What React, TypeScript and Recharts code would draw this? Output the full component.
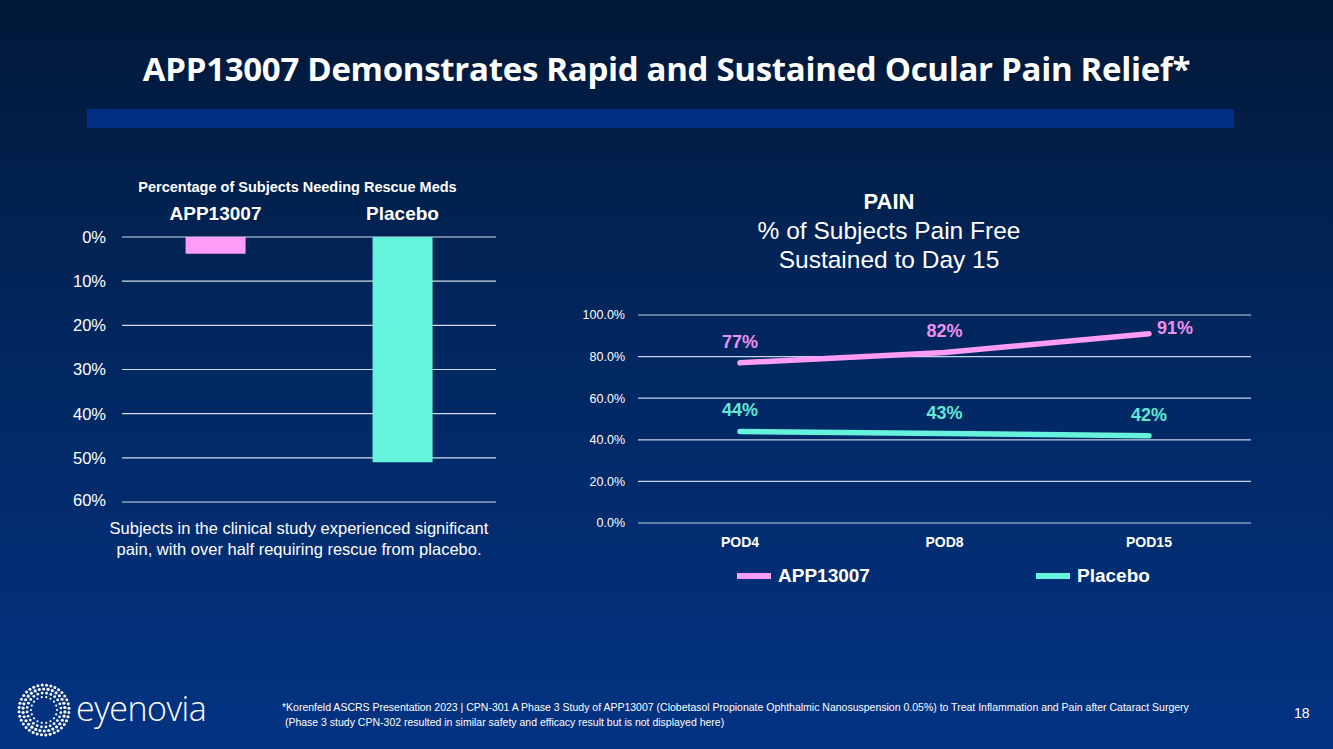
import React from 'react';
import { BarChart, Bar, LineChart, Line, XAxis, YAxis, CartesianGrid, LabelList, Cell } from 'recharts';

// left panel: rescue meds
const rescueGroups = ['APP13007', 'Placebo'];
const rescueValues = [3.8, 51];
const rescueTicks = [0, 10, 20, 30, 40, 50, 60];

// right panel: pain free
const podDays = ['POD4', 'POD8', 'POD15'];
const appValues = [77, 82, 91];
const placeboValues = [44, 43, 42];
const painTicks = [0, 20, 40, 60, 80, 100];

const PINK = '#ff9cf6';
const TEAL = '#66f3dd';
const PINK_TXT = '#ee90ee';
const TEAL_TXT = '#62e6d6';
const FONT = "'Liberation Sans', Arial, sans-serif";

const rescueData = rescueGroups.map((g, i) => ({ group: g, value: rescueValues[i] }));
const painData = podDays.map((d, i) => ({ day: d, app: appValues[i], placebo: placeboValues[i] }));

const legendItems = [
    { name: 'APP13007', color: PINK, left: 737 },
    { name: 'Placebo', color: TEAL, left: 1036 },
];

const TopTick = (props: any) => {
    const { x, y, payload } = props;
    return (
        <text x={x} y={y} dy={-9} textAnchor="middle" fill="#fff" fontSize={19} fontWeight="bold" fontFamily={FONT}>
            {payload.value}
        </text>
    );
};

const makeLabel = (color: string, lastRight: boolean) => (props: any) => {
    const { x, y, value, index } = props;
    const side = lastRight && index === podDays.length - 1;
    return (
        <text
            x={side ? x + 26 : x}
            y={side ? y - 6 : y - 21}
            dy={6}
            textAnchor="middle"
            fill={color}
            fontSize={18}
            fontWeight="bold"
            fontFamily={FONT}
        >
            {`${value}%`}
        </text>
    );
};

const Logo = () => {
    const dots: React.ReactElement[] = [];
    const rings = [
        { r: 13, n: 18, s: 1.1 },
        { r: 17, n: 24, s: 1.4 },
        { r: 21, n: 30, s: 1.6 },
        { r: 25, n: 36, s: 1.5 },
    ];
    rings.forEach((ring, ri) => {
        for (let k = 0; k < ring.n; k++) {
            const a = (k / ring.n) * Math.PI * 2 + ri * 0.15;
            dots.push(
                <circle key={`${ri}-${k}`} cx={29 + ring.r * Math.cos(a)} cy={29 + ring.r * Math.sin(a)} r={ring.s} fill="#fff" />
            );
        }
    });
    return (
        <div style={{ position: 'absolute', left: 15, top: 681, display: 'flex', alignItems: 'center' }}>
            <svg width={58} height={58}>{dots}</svg>
            <span style={{ color: '#fff', fontFamily: "'Open Sans', sans-serif", fontWeight: 300, fontSize: 34, marginLeft: 3, marginTop: -5, letterSpacing: -0.5 }}>
                eyenovia
            </span>
        </div>
    );
};

export default function App() {
    return (
        <div
            style={{
                position: 'absolute',
                left: 0,
                top: 0,
                width: 1333,
                height: 749,
                overflow: 'hidden',
                background: 'linear-gradient(180deg, #011838 0%, #02275f 45%, #033383 100%)',
                fontFamily: FONT,
            }}
        >
            <div style={{ position: 'absolute', left: 0, width: 1333, top: 46, textAlign: 'center', color: '#fff', fontFamily: "'Open Sans', sans-serif", fontWeight: 'bold', fontSize: 33, letterSpacing: -0.3 }}>
                APP13007 Demonstrates Rapid and Sustained Ocular Pain Relief*
            </div>
            <div style={{ position: 'absolute', left: 87, top: 109, width: 1147, height: 19, background: '#022f86' }} />

            {/* left chart */}
            <div style={{ position: 'absolute', left: 0, width: 595, top: 179, textAlign: 'center', color: '#fff', fontWeight: 'bold', fontSize: 14.5 }}>
                Percentage of Subjects Needing Rescue Meds
            </div>
            <div style={{ position: 'absolute', left: 0, top: 190 }}>
                <BarChart width={520} height={320} data={rescueData} margin={{ top: 17, right: 24, left: 2, bottom: 8 }} barCategoryGap="34%">
                    <CartesianGrid vertical={false} stroke="#d4dcec" strokeWidth={1.2} />
                    <XAxis dataKey="group" orientation="top" axisLine={false} tickLine={false} height={30} tick={<TopTick />} />
                    <YAxis
                        reversed
                        domain={[0, 60]}
                        ticks={rescueTicks}
                        width={120}
                        axisLine={false}
                        tickLine={false}
                        tickMargin={10}
                        tick={{ fill: '#fff', fontSize: 16.5, fontFamily: FONT }}
                        tickFormatter={(v) => `${v}%`}
                    />
                    <Bar dataKey="value" isAnimationActive={false}>
                        {rescueData.map((d, i) => (
                            <Cell key={d.group} fill={i === 0 ? PINK : TEAL} />
                        ))}
                    </Bar>
                </BarChart>
            </div>
            <div style={{ position: 'absolute', left: 0, width: 598, top: 518, textAlign: 'center', color: '#fff', fontSize: 16.5, lineHeight: '21px' }}>
                Subjects in the clinical study experienced significant
                <br />
                pain, with over half requiring rescue from placebo.
            </div>

            {/* right chart */}
            <div style={{ position: 'absolute', left: 560, width: 658, top: 187, textAlign: 'center', color: '#fff' }}>
                <div style={{ fontWeight: 'bold', fontSize: 22, lineHeight: '29px' }}>PAIN</div>
                <div style={{ fontSize: 24.5, lineHeight: '29px' }}>% of Subjects Pain Free</div>
                <div style={{ fontSize: 24.5, lineHeight: '29px' }}>Sustained to Day 15</div>
            </div>
            <div style={{ position: 'absolute', left: 560, top: 290 }}>
                <LineChart width={720} height={280} data={painData} margin={{ top: 25, right: 29, left: 18, bottom: 17 }}>
                    <CartesianGrid vertical={false} stroke="#c8d2e8" strokeWidth={1.2} />
                    <XAxis
                        dataKey="day"
                        padding={{ left: 102, right: 102 }}
                        axisLine={false}
                        tickLine={false}
                        tickMargin={8}
                        height={30}
                        tick={{ fill: '#fff', fontSize: 14, fontWeight: 'bold', fontFamily: FONT }}
                    />
                    <YAxis
                        domain={[0, 100]}
                        ticks={painTicks}
                        width={60}
                        axisLine={false}
                        tickLine={false}
                        tickMargin={7}
                        tick={{ fill: '#fff', fontSize: 12.5, fontFamily: FONT }}
                        tickFormatter={(v) => `${Number(v).toFixed(1)}%`}
                    />
                    <Line type="linear" dataKey="app" stroke={PINK} strokeWidth={5.5} strokeLinecap="round" dot={false} isAnimationActive={false}>
                        <LabelList dataKey="app" content={makeLabel(PINK_TXT, true)} />
                    </Line>
                    <Line type="linear" dataKey="placebo" stroke={TEAL} strokeWidth={5.5} strokeLinecap="round" dot={false} isAnimationActive={false}>
                        <LabelList dataKey="placebo" content={makeLabel(TEAL_TXT, false)} />
                    </Line>
                </LineChart>
            </div>
            {legendItems.map((it) => (
                <div key={it.name} style={{ position: 'absolute', left: it.left, top: 565, display: 'flex', alignItems: 'center' }}>
                    <div style={{ width: 34, height: 6, background: it.color }} />
                    <span style={{ color: '#fff', fontWeight: 'bold', fontSize: 19, marginLeft: 7 }}>{it.name}</span>
                </div>
            ))}

            {/* footer */}
            <Logo />
            <div style={{ position: 'absolute', left: 282, top: 700, color: '#fff', fontFamily: "'Liberation Sans Narrow', 'Liberation Sans', Arial, sans-serif", fontSize: 10.5, lineHeight: '15px' }}>
                *Korenfeld ASCRS Presentation 2023 | CPN-301 A Phase 3 Study of APP13007 (Clobetasol Propionate Ophthalmic Nanosuspension 0.05%) to Treat Inflammation and Pain after Cataract Surgery
                <br />
                &nbsp;(Phase 3 study CPN-302 resulted in similar safety and efficacy result but is not displayed here)
            </div>
            <div style={{ position: 'absolute', left: 1294, top: 705, color: '#fff', fontSize: 14 }}>18</div>
        </div>
    );
}
